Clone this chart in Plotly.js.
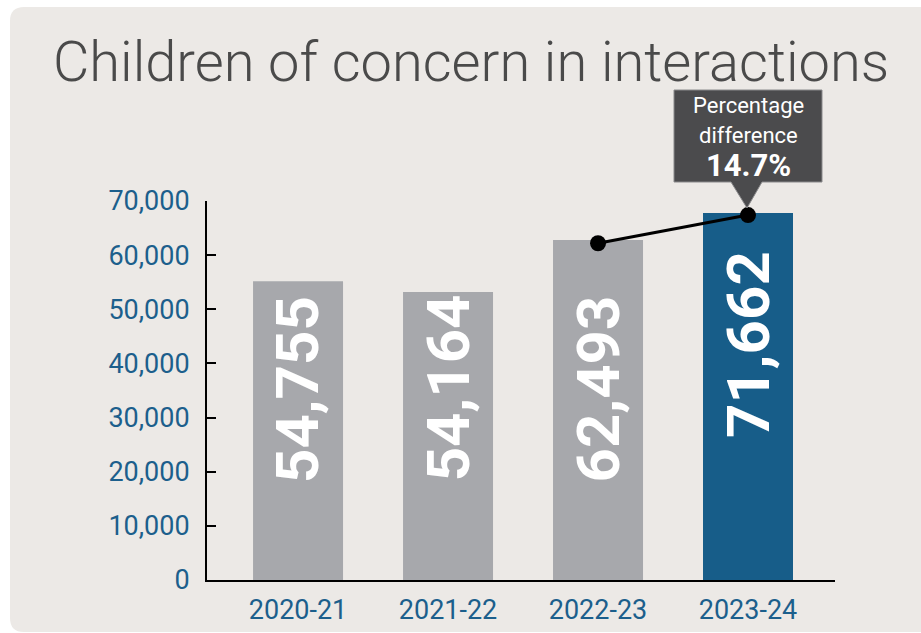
<!DOCTYPE html>
<html>
<head>
<meta charset="utf-8">
<script src="https://cdn.plot.ly/plotly-3.0.1.min.js"></script>
<style>html,body{margin:0;padding:0;background:#fff;}#chart{width:921px;height:633px;}</style>
</head>
<body>
<div id="chart"></div>
<script>
// ---- data ----
var categories = ['2020-21', '2021-22', '2022-23', '2023-24'];
var labelValues = [54755, 54164, 62493, 71662];          // printed bar labels
var barHeights = [55200, 53200, 62800, 67800];            // bar tops as drawn against the axis
var connectorCats = ['2022-23', '2023-24'];
var connectorValues = [62200, 67400];                     // dots of the difference line
var percentDiff = '14.7%';
var yTicks = [0, 10000, 20000, 30000, 40000, 50000, 60000, 70000];

// ---- styling ----
var grey = '#a7a8ac', blue = '#175d89', tickBlue = '#1c5f8c';
var barColors = categories.map(function (c, i) { return i === categories.length - 1 ? blue : grey; });
var roboto = 'Roboto, sans-serif';

// plot area in pixels: x 207..835, y 201..580
var L = 207, R = 835, T = 201, B = 580;
function px(x) { return (x - L) / (R - L); }
function py(y) { return (B - y) / (B - T); }

var bars = {
  type: 'bar', x: categories, y: barHeights, width: 0.6,
  marker: { color: barColors, line: { width: 0 } },
  hoverinfo: 'skip'
};
var connector = {
  type: 'scatter', mode: 'lines+markers', x: connectorCats, y: connectorValues,
  line: { color: '#000', width: 3 }, marker: { color: '#000', size: 16 },
  cliponaxis: false, hoverinfo: 'skip'
};

var labelY = [35100, 35400, 35200, 43400];
var annotations = categories.map(function (c, i) {
  return {
    x: c, y: labelY[i], xref: 'x', yref: 'y', showarrow: false, textangle: -90,
    xanchor: 'center', yanchor: 'middle',
    text: labelValues[i].toLocaleString('en-US'),
    font: { family: roboto, size: 60, color: '#ffffff', weight: 700 }
  };
});
annotations.push(
  { xref: 'paper', yref: 'paper', x: px(748), y: py(106), showarrow: false, text: 'Percentage',
    font: { family: roboto, size: 22, color: '#ffffff' }, xanchor: 'center', yanchor: 'middle' },
  { xref: 'paper', yref: 'paper', x: px(748), y: py(135), showarrow: false, text: 'difference',
    font: { family: roboto, size: 22, color: '#ffffff' }, xanchor: 'center', yanchor: 'middle' },
  { xref: 'paper', yref: 'paper', x: px(748), y: py(165), showarrow: false, text: percentDiff,
    font: { family: roboto, size: 31, color: '#ffffff', weight: 700 }, xanchor: 'center', yanchor: 'middle' }
);

// rounded background panel path (paper coords)
var x0 = px(10), x1 = px(940), y0 = py(7), y1 = py(632);
var rx = 14 / (R - L), ry = 14 / (B - T);
var panelPath = 'M ' + (x0 + rx) + ',' + y0 + ' L ' + x1 + ',' + y0 + ' L ' + x1 + ',' + y1 +
  ' L ' + (x0 + rx) + ',' + y1 + ' Q ' + x0 + ',' + y1 + ' ' + x0 + ',' + (y1 + ry) +
  ' L ' + x0 + ',' + (y0 - ry) + ' Q ' + x0 + ',' + y0 + ' ' + (x0 + rx) + ',' + y0 + ' Z';

var calloutPath = 'M ' + px(674) + ',' + py(90) + ' L ' + px(822) + ',' + py(90) + ' L ' + px(822) + ',' + py(182) +
  ' L ' + px(762) + ',' + py(182) + ' L ' + px(747) + ',' + py(208) + ' L ' + px(731) + ',' + py(182) +
  ' L ' + px(674) + ',' + py(182) + ' Z';

var layout = {
  width: 921, height: 633,
  margin: { l: L, r: 921 - R, t: T, b: 633 - B, pad: 0 },
  paper_bgcolor: '#ffffff', plot_bgcolor: 'rgba(0,0,0,0)',
  showlegend: false,
  title: {
    text: 'Children of concern in interactions', xref: 'container', yref: 'container',
    x: 471 / 921, xanchor: 'center', y: 1 - 61 / 633, yanchor: 'middle',
    font: { family: roboto, size: 56, color: '#4a4a4a', weight: 300 }
  },
  xaxis: {
    type: 'category', range: [-0.607, 3.58], fixedrange: true,
    showline: true, linecolor: '#000', linewidth: 2, ticks: '', showgrid: false, zeroline: false,
    tickfont: { family: roboto, size: 27, color: tickBlue }, ticklabelstandoff: 5
  },
  yaxis: {
    range: [0, 70000], tickvals: yTicks, tickformat: ',d', fixedrange: true,
    showline: true, linecolor: '#000', linewidth: 2, ticks: 'inside', ticklen: 9, tickwidth: 2, tickcolor: '#000',
    showgrid: false, zeroline: false,
    tickfont: { family: roboto, size: 27, color: tickBlue }, ticklabelstandoff: 10
  },
  shapes: [
    { type: 'path', xref: 'paper', yref: 'paper', path: panelPath, fillcolor: '#ece9e6', line: { width: 0 }, layer: 'below' },
    { type: 'path', xref: 'paper', yref: 'paper', path: calloutPath, fillcolor: '#4b4b4d', line: { color: '#8a8a8c', width: 1 }, layer: 'above' }
  ],
  annotations: annotations
};

Plotly.newPlot('chart', [bars, connector], layout, { staticPlot: true, displayModeBar: false });
</script>
</body>
</html>
